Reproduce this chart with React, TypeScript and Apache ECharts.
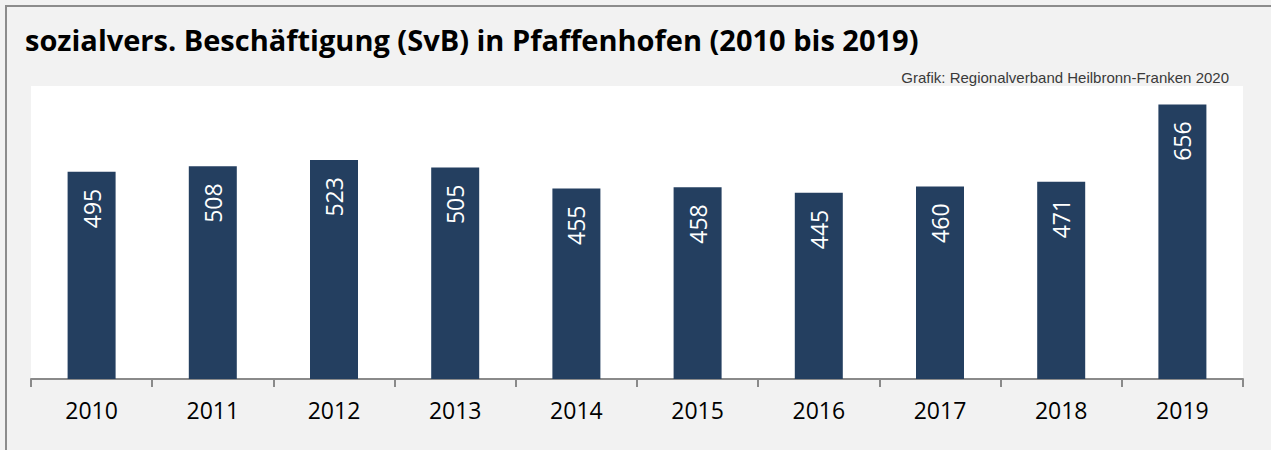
import React, { useEffect, useRef } from "react";
import * as echarts from "echarts";

const titleText = "sozialvers. Beschäftigung (SvB) in Pfaffenhofen (2010 bis 2019)";
const sourceText = "Grafik: Regionalverband Heilbronn-Franken 2020";
const years = ["2010", "2011", "2012", "2013", "2014", "2015", "2016", "2017", "2018", "2019"];
const values = [495, 508, 523, 505, 455, 458, 445, 460, 471, 656];

export default function App() {
  const ref = useRef<HTMLDivElement>(null);
  useEffect(() => {
    document.body.style.margin = "0";
    const chart = echarts.init(ref.current!, null, { renderer: "svg" });
    chart.setOption({
      animation: false,
      backgroundColor: "#f2f2f2",
      title: [
        {
          text: titleText,
          left: 20,
          top: 20,
          textStyle: { fontFamily: "Open Sans", fontWeight: "bold", fontSize: 29, color: "#000" },
        },
        {
          text: sourceText,
          right: 37,
          top: 65,
          textStyle: { fontFamily: "Liberation Sans", fontWeight: "normal", fontSize: 15, color: "#3a3a3a" },
        },
      ],
      graphic: [
        {
          type: "polyline",
          shape: { points: [[6, 450], [6, 6], [1271, 6]] },
          style: { stroke: "#8c8c8c", lineWidth: 2, fill: "none" },
          z: 100,
        },
      ],
      grid: {
        left: 31,
        right: 28,
        top: 86,
        bottom: 71,
        show: true,
        backgroundColor: "#ffffff",
        borderWidth: 0,
        containLabel: false,
      },
      xAxis: {
        type: "category",
        data: years,
        boundaryGap: true,
        axisLine: { show: true, lineStyle: { color: "#8a8a8a", width: 2 } },
        axisTick: { show: true, alignWithLabel: false, length: 8, lineStyle: { color: "#8a8a8a", width: 2 } },
        axisLabel: { color: "#000", fontSize: 23, fontFamily: "Open Sans", margin: 19 },
      },
      yAxis: {
        type: "value",
        min: 0,
        max: 700,
        show: false,
        splitLine: { show: false },
      },
      series: [
        {
          type: "bar",
          data: values,
          barWidth: 48,
          itemStyle: { color: "#243f60" },
          label: {
            show: true,
            position: "insideTop",
            rotate: 90,
            align: "right",
            verticalAlign: "middle",
            distance: 17,
            color: "#ffffff",
            fontSize: 23,
            fontFamily: "Open Sans",
          },
        },
      ],
    });
    return () => chart.dispose();
  }, []);
  return <div ref={ref} style={{ width: 1271, height: 450 }} />;
}
